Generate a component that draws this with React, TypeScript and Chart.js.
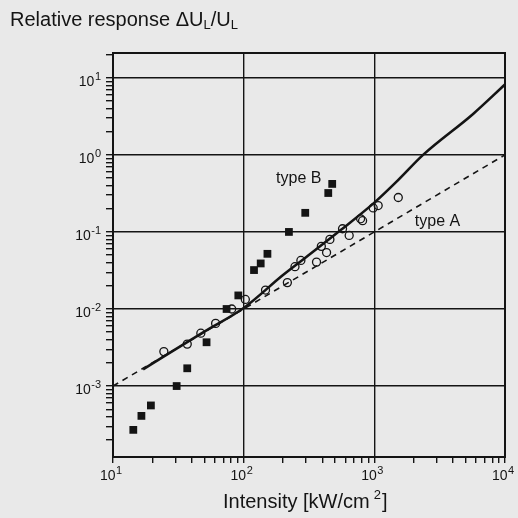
import React, { useEffect, useRef } from "react";
import { Chart, registerables } from "chart.js";

Chart.register(...registerables);

// ---- data ----
const typeBX = [14.3, 16.5, 19.5, 30.7, 37, 52, 74, 91, 120, 135, 152, 222, 296, 444, 476];
const typeBY = [2.7e-4, 4.1e-4, 5.6e-4, 1.0e-3, 1.7e-3, 3.7e-3, 0.01, 0.015, 0.032, 0.039, 0.052, 0.1, 0.177, 0.32, 0.42];

const typeAX = [24.5, 37, 47, 61, 81, 103, 147, 216, 247, 274, 361, 393, 431, 457, 571, 642, 785, 813, 980, 1070, 1525];
const typeAY = [2.8e-3, 3.5e-3, 4.85e-3, 6.5e-3, 0.01, 0.0133, 0.0176, 0.022, 0.0354, 0.0427, 0.0406, 0.065, 0.054, 0.08, 0.11, 0.09, 0.148, 0.14, 0.205, 0.22, 0.28];

const solidX = [17, 30, 50, 100, 200, 300, 550, 1000, 1500, 2360, 5700, 10000];
const solidY = [1.65e-3, 3.0e-3, 5.1e-3, 0.0103, 0.0276, 0.047, 0.105, 0.24, 0.46, 1.0, 3.4, 8.2];

const dashedX = [10, 10000];
const dashedY = [0.001, 1.0];

const xDecades = [1, 2, 3, 4];
const yDecades = [-4, -3, -2, -1, 0, 1];
const xLabelExps = [1, 2, 3, 4];
const yLabelExps = [-3, -2, -1, 0, 1];
const xMin = 10;
const xMax = 10000;
const yMin = 1.2e-4;
const yMax = 21;

const titleMain = "Relative response ΔU";
const titleSub = "L";
const xTitleMain = "Intensity [kW/cm";
const xTitleSup = "2";
const labelB = "type B";
const labelA = "type A";
const labelBPos = { x: 177, y: 0.43 };
const labelAPos = { x: 2040, y: 0.118 };

const FONT = "'Liberation Sans', Arial, Helvetica, sans-serif";
const BG = "#e9e9e9";
const INK = "#141414";

function isDecade(v: number) {
  const l = Math.log10(v);
  return Math.abs(l - Math.round(l)) < 1e-6;
}
function buildTicks(decades: number[], min: number, max: number) {
  const out: { value: number; major: boolean }[] = [];
  decades.forEach((e) => {
    for (let m = 1; m <= 9; m++) {
      const v = m * Math.pow(10, e);
      if (v >= min * 0.999 && v <= max * 1.001) out.push({ value: v, major: m === 1 });
    }
  });
  return out;
}
const pts = (xs: number[], ys: number[]) => xs.map((x, i) => ({ x, y: ys[i] }));

function drawPower(ctx: any, exp: number, x: number, baseline: number, align: "center" | "right") {
  const base = "10";
  const e = String(exp);
  ctx.font = `14px ${FONT}`;
  const wb = ctx.measureText(base).width;
  ctx.font = `11px ${FONT}`;
  const we = ctx.measureText(e).width;
  const total = wb + we + 0.5;
  const start = align === "center" ? x - total / 2 : x - total;
  ctx.font = `14px ${FONT}`;
  ctx.fillText(base, start, baseline);
  ctx.font = `11px ${FONT}`;
  ctx.fillText(e, start + wb + 0.5, baseline - 6);
}

const decor = {
  id: "decor",
  beforeDraw(chart: any) {
    const { ctx, width, height } = chart;
    ctx.save();
    ctx.fillStyle = BG;
    ctx.fillRect(0, 0, width, height);
    ctx.restore();
  },
  beforeDatasetsDraw(chart: any) {
    const { ctx, chartArea } = chart;
    ctx.save();
    ctx.strokeStyle = INK;
    ctx.lineWidth = 2;
    ctx.strokeRect(chartArea.left, chartArea.top, chartArea.right - chartArea.left, chartArea.bottom - chartArea.top);
    ctx.restore();
  },
  afterDraw(chart: any) {
    const { ctx } = chart;
    const xs = chart.scales.x;
    const ys = chart.scales.y;
    ctx.save();
    ctx.fillStyle = INK;
    ctx.textBaseline = "alphabetic";
    ctx.textAlign = "left";

    // tick labels (powers of ten with superscript exponents)
    xLabelExps.forEach((e) => {
      drawPower(ctx, e, xs.getPixelForValue(Math.pow(10, e)) - 2, 480, "center");
    });
    yLabelExps.forEach((e) => {
      drawPower(ctx, e, 101, ys.getPixelForValue(Math.pow(10, e)) + 8, "right");
    });

    // title with subscripts
    ctx.font = `20px ${FONT}`;
    let x = 10;
    const by = 26;
    ctx.fillText(titleMain, x, by);
    x += ctx.measureText(titleMain).width;
    ctx.font = `13px ${FONT}`;
    ctx.fillText(titleSub, x, by + 3);
    x += ctx.measureText(titleSub).width;
    ctx.font = `20px ${FONT}`;
    ctx.fillText("/U", x, by);
    x += ctx.measureText("/U").width;
    ctx.font = `13px ${FONT}`;
    ctx.fillText(titleSub, x, by + 3);

    // x axis title
    ctx.font = `20px ${FONT}`;
    let tx = 223;
    const ty = 508;
    ctx.fillText(xTitleMain, tx, ty);
    tx += ctx.measureText(xTitleMain).width + 4;
    ctx.font = `13px ${FONT}`;
    ctx.fillText(xTitleSup, tx, ty - 9);
    tx += ctx.measureText(xTitleSup).width + 1;
    ctx.font = `20px ${FONT}`;
    ctx.fillText("]", tx, ty);

    // in-plot labels
    ctx.font = `16px ${FONT}`;
    ctx.fillText(labelB, xs.getPixelForValue(labelBPos.x), ys.getPixelForValue(labelBPos.y));
    ctx.fillText(labelA, xs.getPixelForValue(labelAPos.x), ys.getPixelForValue(labelAPos.y));
    ctx.restore();
  },
};

export default function App() {
  const ref = useRef<HTMLCanvasElement | null>(null);
  useEffect(() => {
    if (!ref.current) return;
    const gridColor = (c: any) => (c.tick && c.tick.major ? INK : "rgba(0,0,0,0)");
    const chart = new Chart(ref.current, {
      type: "scatter",
      data: {
        datasets: [
          {
            label: "type B",
            data: pts(typeBX, typeBY),
            pointStyle: "rect",
            pointRadius: 5.5,
            backgroundColor: INK,
            borderWidth: 0,
            order: 0,
          } as any,
          {
            label: "type A",
            data: pts(typeAX, typeAY),
            pointStyle: "circle",
            pointRadius: 4,
            backgroundColor: "rgba(0,0,0,0)",
            borderColor: INK,
            borderWidth: 1.3,
            order: 1,
          } as any,
          {
            label: "fit",
            data: pts(solidX, solidY),
            showLine: true,
            pointRadius: 0,
            borderColor: INK,
            borderWidth: 2.6,
            cubicInterpolationMode: "monotone",
            order: 2,
          } as any,
          {
            label: "type A line",
            data: pts(dashedX, dashedY),
            showLine: true,
            pointRadius: 0,
            borderColor: INK,
            borderWidth: 1.6,
            borderDash: [6, 5],
            order: 3,
          } as any,
        ],
      },
      options: {
        animation: false,
        responsive: false,
        maintainAspectRatio: false,
        layout: { padding: { top: 53, right: 13, left: 0, bottom: 0 } },
        plugins: { legend: { display: false }, tooltip: { enabled: false }, title: { display: false } },
        scales: {
          x: {
            type: "logarithmic",
            min: xMin,
            max: xMax,
            afterBuildTicks: (s: any) => {
              s.ticks = buildTicks(xDecades, xMin, xMax);
            },
            afterFit: (s: any) => {
              s.height = 61;
            },
            ticks: {
              autoSkip: false,
              maxRotation: 0,
              padding: 1,
              color: INK,
              font: { family: FONT, size: 14 },
              callback: () => "",
            },
            grid: { color: gridColor, tickColor: INK, lineWidth: 1.4, tickLength: 6 },
            border: { color: INK, width: 2 },
          },
          y: {
            type: "logarithmic",
            min: yMin,
            max: yMax,
            afterBuildTicks: (s: any) => {
              s.ticks = buildTicks(yDecades, yMin, yMax);
            },
            afterFit: (s: any) => {
              s.width = 113;
            },
            ticks: {
              autoSkip: false,
              padding: 4,
              color: INK,
              font: { family: FONT, size: 14 },
              callback: () => "",
            },
            grid: { color: gridColor, tickColor: INK, lineWidth: 1.4, tickLength: 7 },
            border: { color: INK, width: 2 },
          },
        },
      },
      plugins: [decor],
    } as any);
    return () => chart.destroy();
  }, []);
  return (
    <div style={{ position: "fixed", left: 0, top: 0, width: 518, height: 518, background: BG }}>
      <canvas ref={ref} width={518} height={518} style={{ width: 518, height: 518 }} />
    </div>
  );
}
